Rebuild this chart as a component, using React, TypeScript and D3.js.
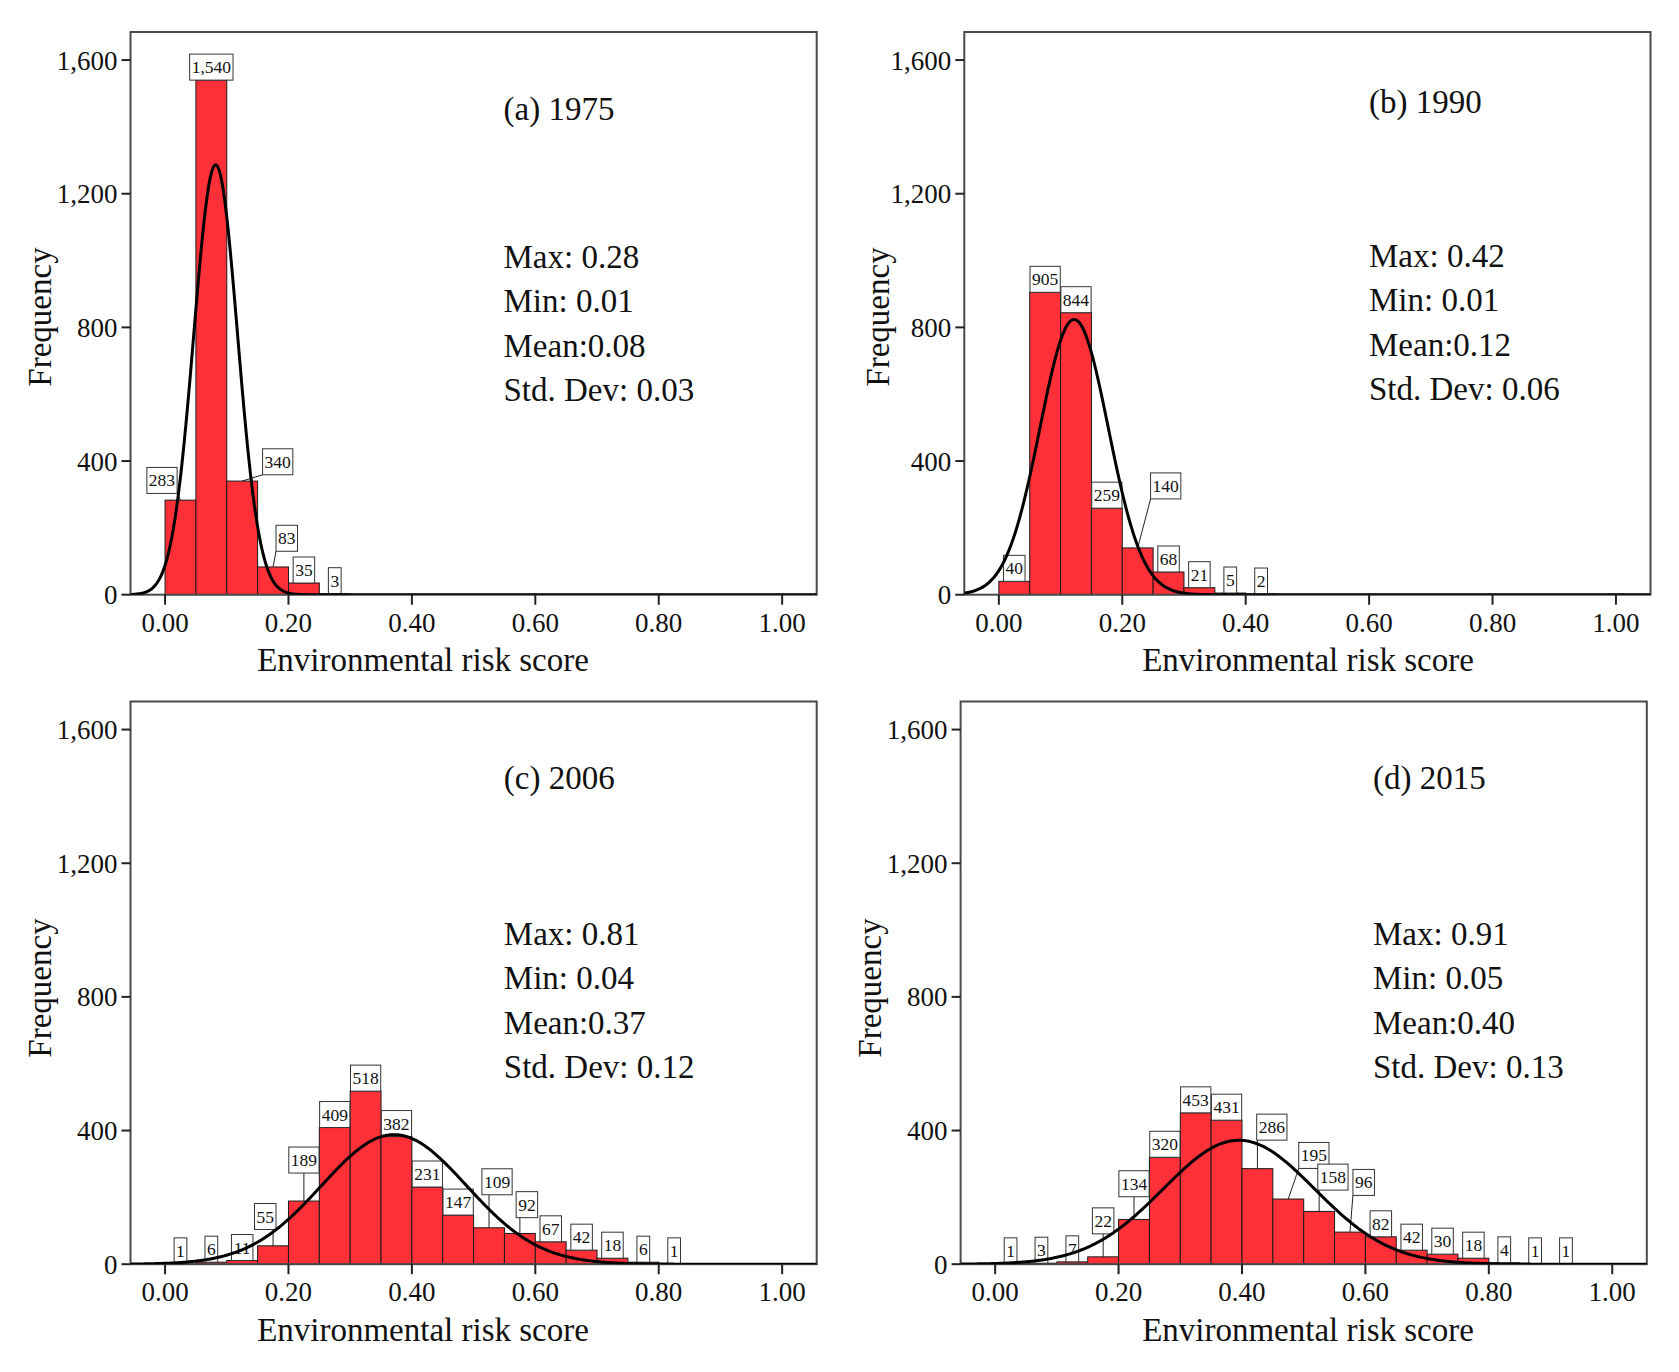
import { useEffect, useRef } from 'react';
import * as d3 from 'd3';

// Histogram bins (lower edges) and bin width
const binStarts = [0.0, 0.05, 0.1, 0.15, 0.2, 0.25, 0.3, 0.35, 0.4, 0.45, 0.5, 0.55, 0.6, 0.65, 0.7, 0.75, 0.8, 0.85, 0.9];
const binWidth = 0.05;

// Frequencies per bin, one array per year
const counts1975 = [283, 1540, 340, 83, 35, 3];
const counts1990 = [40, 905, 844, 259, 140, 68, 21, 5, 2];
const counts2006 = [1, 6, 11, 55, 189, 409, 518, 382, 231, 147, 109, 92, 67, 42, 18, 6, 1];
const counts2015 = [1, 3, 7, 22, 134, 320, 453, 431, 286, 195, 158, 96, 82, 42, 30, 18, 4, 1, 1];

const panelTitles = ['(a) 1975', '(b) 1990', '(c) 2006', '(d) 2015'];
const statMax = ['0.28', '0.42', '0.81', '0.91'];
const statMin = ['0.01', '0.01', '0.04', '0.05'];
const statMean = ['0.08', '0.12', '0.37', '0.40'];
const statStd = ['0.03', '0.06', '0.12', '0.13'];

// Fitted normal curve parameters
const fitMean = [0.082, 0.122, 0.371, 0.395];
const fitSd = [0.0354, 0.0553, 0.1175, 0.1228];

const yTicks = [0, 400, 800, 1200, 1600];
const xTicks = [0, 0.2, 0.4, 0.6, 0.8, 1.0];

// Layout (pixels)
const W = 1679;
const H = 1372;
const FONT = '"Liberation Serif", "Times New Roman", serif';
const RED = '#ff3038';
const xDomain: [number, number] = [-0.056, 1.056];
const yDomain: [number, number] = [0, 1684];

const panels = [
  { left: 130.5, top: 32, titleX: 503.5, titleY: 120, statsX: 503.5, statsY: 268, xTitleX: 423, xTitleY: 671, yTitleX: 51, yTitleY: 317 },
  { left: 964.3, top: 32, titleX: 1369, titleY: 113, statsX: 1369, statsY: 267, xTitleX: 1308, xTitleY: 671, yTitleX: 889, yTitleY: 317 },
  { left: 130.5, top: 701.5, titleX: 503.8, titleY: 789, statsX: 503.8, statsY: 945, xTitleX: 423, xTitleY: 1341, yTitleX: 51, yTitleY: 988 },
  { left: 960.6, top: 701.5, titleX: 1373, titleY: 789, statsX: 1373, statsY: 945, xTitleX: 1308, xTitleY: 1341, yTitleX: 881, yTitleY: 988 },
];
const plotW = 686.2;
const plotH = 562.7;

// Label box nudges (px) where the label was pushed off its bar
const labelNudges: Record<number, [number, number]>[] = [
  { 0: [-18.5, -6.7], 2: [35.5, -6.3], 3: [13.7, -15.7] },
  { 4: [28, -49] },
  { 3: [-7.8, -16.3], 4: [0, -28], 10: [8, -33], 11: [7, -15.8] },
  { 3: [0, -23], 4: [0, -22.7], 8: [14.4, -28.5], 9: [25.6, -30.6], 10: [13.8, -21.3], 11: [13.7, -36.7] },
];

const allCounts = [counts1975, counts1990, counts2006, counts2015];

const HistogramGrid = () => {
  const svgRef = useRef<SVGSVGElement>(null);

  useEffect(() => {
    if (!svgRef.current) return;
    const root = d3.select(svgRef.current);
    root.selectAll('*').remove();
    root.attr('width', W).attr('height', H).style('font-family', FONT);

    root.append('rect').attr('width', W).attr('height', H).attr('fill', '#fff');

    const fmt = d3.format(',');
    const labelFont = 17.5;
    const boxH = 26;

    allCounts.forEach((counts, p) => {
      const cfg = panels[p];
      const x = d3.scaleLinear().domain(xDomain).range([cfg.left, cfg.left + plotW]);
      const y = d3.scaleLinear().domain(yDomain).range([cfg.top + plotH, cfg.top]);
      const g = root.append('g');
      const n = d3.sum(counts);

      const clipId = `clip-${p}`;
      root.append('defs').append('clipPath').attr('id', clipId)
        .append('rect')
        .attr('x', cfg.left).attr('y', cfg.top)
        .attr('width', plotW).attr('height', plotH);

      // Bars
      const bins = counts.map((c, i) => ({ x0: binStarts[i], x1: binStarts[i] + binWidth, c, i }));
      g.selectAll('.bar')
        .data(bins)
        .enter()
        .append('rect')
        .attr('x', d => x(d.x0))
        .attr('y', d => y(d.c))
        .attr('width', d => x(d.x1) - x(d.x0))
        .attr('height', d => y(0) - y(d.c))
        .attr('fill', RED)
        .attr('stroke', '#1a1a1a')
        .attr('stroke-width', 1);

      // Frame
      g.append('rect')
        .attr('x', cfg.left).attr('y', cfg.top)
        .attr('width', plotW).attr('height', plotH)
        .attr('fill', 'none')
        .attr('stroke', '#4a4a4a')
        .attr('stroke-width', 2);

      // Value labels
      const nudges = labelNudges[p];
      bins.forEach(d => {
        const txt = fmt(d.c);
        const tw = txt.split('').reduce((s, ch) => s + (ch === ',' ? 0.25 : 0.5), 0) * labelFont;
        const bw = tw + 4;
        const cx = (x(d.x0) + x(d.x1)) / 2;
        const top = y(d.c);
        const [dx, dy] = nudges[d.i] || [0, 0];
        const bx0 = cx + dx - bw / 2;
        const by1 = top + dy;
        const by0 = by1 - boxH;
        const px = Math.max(bx0, Math.min(cx, bx0 + bw));
        const py = Math.max(by0, Math.min(top, by1));
        if (Math.hypot(px - cx, py - top) > 3) {
          g.append('line')
            .attr('x1', cx).attr('y1', top)
            .attr('x2', px).attr('y2', py)
            .attr('stroke', '#222')
            .attr('stroke-width', 1);
        }
        g.append('rect')
          .attr('x', bx0).attr('y', by0)
          .attr('width', bw).attr('height', boxH)
          .attr('fill', '#fff')
          .attr('stroke', '#333')
          .attr('stroke-width', 1);
        g.append('text')
          .attr('x', bx0 + bw / 2)
          .attr('y', by1 - 7)
          .attr('text-anchor', 'middle')
          .attr('font-size', labelFont)
          .attr('fill', '#111')
          .text(txt);
      });

      // Fitted normal curve
      const mu = fitMean[p];
      const sd = fitSd[p];
      const xs = d3.range(0, 601).map(k => xDomain[0] + (k / 600) * (xDomain[1] - xDomain[0]));
      const pdf = (v: number) => n * binWidth * Math.exp(-0.5 * ((v - mu) / sd) ** 2) / (sd * Math.sqrt(2 * Math.PI));
      const line = d3.line<number>()
        .x(v => x(v))
        .y(v => y(pdf(v)))
        .curve(d3.curveBasis);
      g.append('path')
        .datum(xs)
        .attr('d', line)
        .attr('fill', 'none')
        .attr('stroke', '#000')
        .attr('stroke-width', 3)
        .attr('clip-path', `url(#${clipId})`);

      // Y axis ticks
      yTicks.forEach(t => {
        g.append('line')
          .attr('x1', cfg.left - 9).attr('x2', cfg.left)
          .attr('y1', y(t)).attr('y2', y(t))
          .attr('stroke', '#222').attr('stroke-width', 2);
        g.append('text')
          .attr('x', cfg.left - 13)
          .attr('y', y(t) + 9.5)
          .attr('text-anchor', 'end')
          .attr('font-size', 27)
          .attr('fill', '#111')
          .text(fmt(t));
      });

      // X axis ticks
      xTicks.forEach(t => {
        g.append('line')
          .attr('x1', x(t)).attr('x2', x(t))
          .attr('y1', y(0)).attr('y2', y(0) + 10)
          .attr('stroke', '#222').attr('stroke-width', 2);
        g.append('text')
          .attr('x', x(t))
          .attr('y', y(0) + 37)
          .attr('text-anchor', 'middle')
          .attr('font-size', 27)
          .attr('fill', '#111')
          .text(d3.format('.2f')(t));
      });

      // Axis titles
      g.append('text')
        .attr('x', cfg.xTitleX)
        .attr('y', cfg.xTitleY)
        .attr('text-anchor', 'middle')
        .attr('font-size', 33)
        .attr('fill', '#111')
        .text('Environmental risk score');
      g.append('text')
        .attr('transform', `translate(${cfg.yTitleX},${cfg.yTitleY}) rotate(-90)`)
        .attr('text-anchor', 'middle')
        .attr('font-size', 33)
        .attr('fill', '#111')
        .text('Frequency');

      // Panel title and summary stats
      g.append('text')
        .attr('x', cfg.titleX)
        .attr('y', cfg.titleY)
        .attr('font-size', 33)
        .attr('fill', '#111')
        .text(panelTitles[p]);
      const lines = [
        `Max: ${statMax[p]}`,
        `Min: ${statMin[p]}`,
        `Mean:${statMean[p]}`,
        `Std. Dev: ${statStd[p]}`,
      ];
      lines.forEach((s, k) => {
        g.append('text')
          .attr('x', cfg.statsX)
          .attr('y', cfg.statsY + k * 44.3)
          .attr('font-size', 33)
          .attr('fill', '#111')
          .text(s);
      });
    });
  }, []);

  return (
    <div style={{ position: 'absolute', left: 0, top: 0 }}>
      <svg ref={svgRef}></svg>
    </div>
  );
};

export default function App() {
  return <HistogramGrid />;
}
